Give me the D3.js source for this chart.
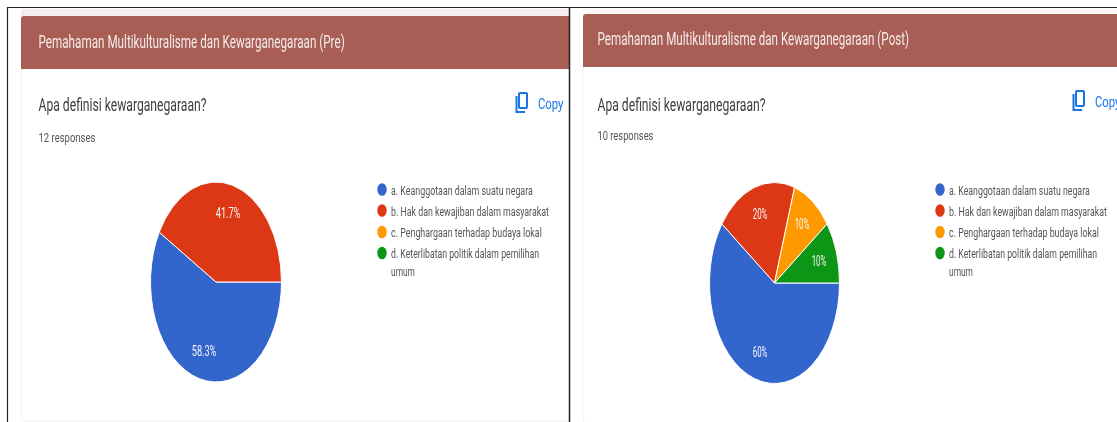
<!DOCTYPE html>
<html><head><meta charset="utf-8">
<script src="https://cdnjs.cloudflare.com/ajax/libs/d3/7.8.5/d3.min.js"></script>
<style>html,body{margin:0;padding:0;background:#fff;overflow:hidden}svg{display:block}text{font-family:Roboto,sans-serif}</style>
</head><body><svg id="c" width="1117" height="422"></svg>
<script>
const categories = ["a. Keanggotaan dalam suatu negara","b. Hak dan kewajiban dalam masyarakat","c. Penghargaan terhadap budaya lokal","d. Keterlibatan politik dalam pemilihan"];
const legendWrap = "umum";
const colors = ["#3366cc","#dc3912","#ff9900","#109618"];
const preValues = [58.3,41.7,0,0];
const postValues = [60,20,10,10];
const preLabels = ["58.3%","41.7%","",""];
const postLabels = ["60%","20%","10%","10%"];
const legendWidthsPre = [142,158,151,148];
const legendWidthsPost = [141,158,150,148];

const svg = d3.select("#c");
const defs = svg.append("defs");
defs.append("filter").attr("id","soft").append("feGaussianBlur").attr("stdDeviation",0.4);
const root = svg.append("g").attr("filter","url(#soft)");

// squeezed text: the reference screenshot is compressed horizontally
function fit(sel,text,x,y,w,size,fill,anchor){
  const t = sel.append("text").attr("font-size",size).attr("fill",fill).text(text);
  if(anchor) t.attr("text-anchor",anchor);
  const n = t.node().getComputedTextLength();
  t.attr("transform",`translate(${x},${y}) scale(${w/n},1)`);
  return t;
}
function panel(o){
  const g = root.append("g");
  g.append("rect").attr("x",o.x0).attr("y",o.stripY).attr("width",o.x1-o.x0).attr("height",o.headY-o.stripY).attr("fill",o.strip);
  g.append("path").attr("d",`M${o.x0} ${o.headY+53}V${o.headY+3}Q${o.x0} ${o.headY} ${o.x0+3} ${o.headY}H${o.x1}V${o.headY+53}Z`).attr("fill","#a85d54");
  g.append("path").attr("d",`M${o.x0} ${o.headY+53}V${o.cardBottom-4}Q${o.x0} ${o.cardBottom} ${o.x0+4} ${o.cardBottom}H${o.x1}`).attr("fill","none").attr("stroke","#f0f0f0");
  fit(g,o.title,o.tx,o.titleY,o.titleW,19,"#f4ecea");
  fit(g,"Apa definisi kewarganegaraan?",o.tx,o.qy,o.qW,19,"#3c3c3c");
  fit(g,o.resp,o.tx,o.respY,o.rW,13.5,"#555");
  const ic = g.append("g").attr("transform",`translate(${o.iconX},${o.iconY})`).attr("fill","none").attr("stroke","#1a73e8").attr("stroke-width",2);
  ic.append("rect").attr("x",3).attr("y",1).attr("width",8).attr("height",15).attr("rx",1);
  ic.append("path").attr("d","M0.5 4V20H9");
  fit(g,"Copy",o.copyX,o.copyY,25.5,14.5,"#1a73e8");
  const sx = d3.scaleLinear().domain([0,100]).range([0,o.rx]);
  const sy = d3.scaleLinear().domain([0,100]).range([0,o.ryy]);
  const pie = d3.pie().sort(null).value(d=>d.v).startAngle(Math.PI/2).endAngle(Math.PI*2.5);
  const arcs = pie(o.values.map((v,i)=>({v,i,l:o.labels[i]}))).filter(d=>d.data.v>0);
  const arc = d3.arc().innerRadius(0).outerRadius(100);
  const lab = d3.arc().innerRadius(o.labelR).outerRadius(o.labelR);
  const p = g.append("g").attr("transform",`translate(${o.cx},${o.cy}) scale(${o.rx/100},${o.ryy/100})`);
  p.selectAll("path").data(arcs).join("path")
    .attr("d",arc).attr("fill",d=>colors[d.data.i]).attr("stroke","#fff").attr("stroke-width",1).attr("vector-effect","non-scaling-stroke");
  arcs.forEach(d=>{
    const c = lab.centroid(d);
    fit(g,d.data.l,o.cx+sx(c[0]),o.cy+sy(c[1])+5,d.data.l.length*4.9,14,"#f6f6f6","middle");
  });
  const ly = d3.scaleOrdinal().domain(categories).range([189.5,210.5,232,253]);
  categories.forEach((c,i)=>{
    g.append("ellipse").attr("cx",o.lx).attr("cy",ly(c)).attr("rx",4.7).attr("ry",6.3).attr("fill",colors[i]);
    fit(g,c,o.lx+9,ly(c)+5,o.lw[i],13.5,"#555");
  });
  fit(g,legendWrap,o.lx+9,275.5,24,13.5,"#555");
}
panel({x0:21,x1:569,stripY:9,headY:16,strip:"#f5eded",cardBottom:421,tx:38.5,titleY:48,
  title:"Pemahaman Multikulturalisme dan Kewarganegaraan (Pre)",titleW:306.5,qy:111,qW:168,resp:"12 responses",respY:142,rW:57,
  iconX:516,iconY:92,copyX:538,copyY:109,cx:216,cy:282,rx:65.5,ryy:100,labelR:71,values:preValues,labels:preLabels,lx:382,lw:legendWidthsPre});
panel({x0:583,x1:1117,stripY:9,headY:14,strip:"#fbf8f8",cardBottom:423,tx:597.5,titleY:45,
  title:"Pemahaman Multikulturalisme dan Kewarganegaraan (Post)",titleW:312,qy:111,qW:168,resp:"10 responses",respY:140,rW:56,
  iconX:1073,iconY:90,copyX:1095,copyY:107,cx:774.5,cy:283,rx:65,ryy:100.5,labelR:72,values:postValues,labels:postLabels,lx:940,lw:legendWidthsPost});
const frame = svg.append("g").attr("stroke","#222").attr("fill","none");
frame.append("path").attr("d","M7.5 422V7.5H1117").attr("stroke-width",1.2);
frame.append("path").attr("d","M569.5 7.5V422").attr("stroke-width",1.5);
</script></body></html>
